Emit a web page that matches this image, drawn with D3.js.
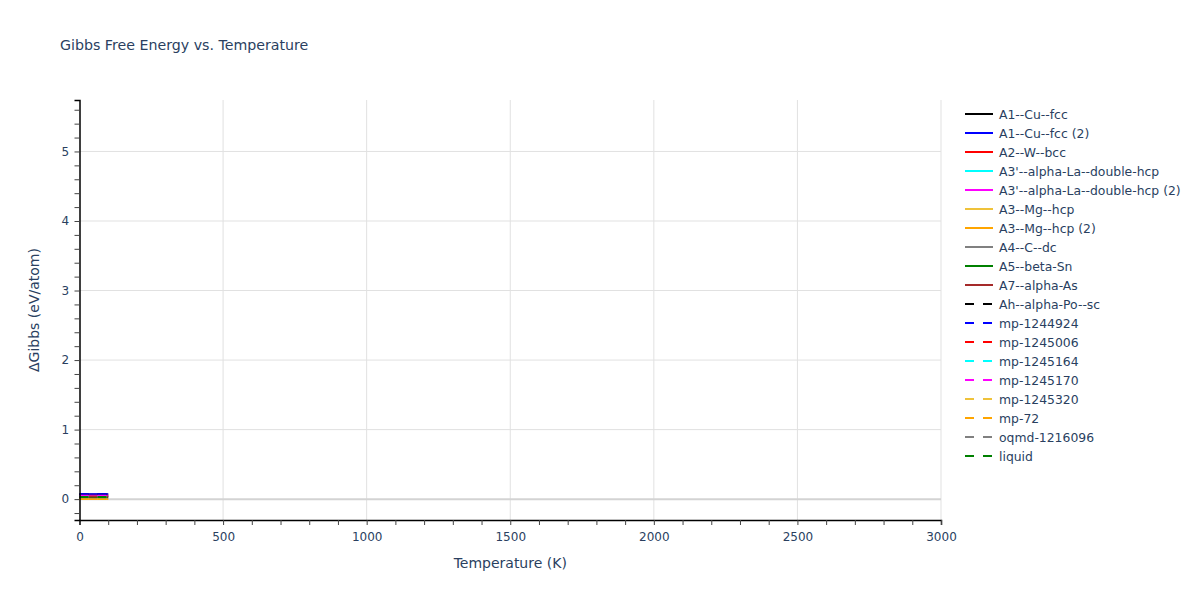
<!DOCTYPE html>
<html>
<head>
<meta charset="utf-8">
<script src="https://cdn.jsdelivr.net/npm/d3@7"></script>
<style>
  body { margin: 0; background: #fff; }
  svg text { font-family: verdana, "DejaVu Sans", arial, sans-serif; fill: #2a3f5f; }
</style>
</head>
<body>
<svg id="chart" width="1200" height="600"></svg>
<script>
'use strict';

// Data
const temperatures = [0, 100];
const seriesNames = [
  "A1--Cu--fcc", "A1--Cu--fcc (2)", "A2--W--bcc", "A3'--alpha-La--double-hcp",
  "A3'--alpha-La--double-hcp (2)", "A3--Mg--hcp", "A3--Mg--hcp (2)", "A4--C--dc",
  "A5--beta-Sn", "A7--alpha-As", "Ah--alpha-Po--sc", "mp-1244924", "mp-1245006",
  "mp-1245164", "mp-1245170", "mp-1245320", "mp-72", "oqmd-1216096", "liquid"
];
const gibbsValues = [
  [0.068, 0.067], [0.072, 0.071], [0.050, 0.049], [0.044, 0.043],
  [0.046, 0.045], [0.004, 0.004], [0.002, 0.002], [0.026, 0.025],
  [0.030, 0.029], [0.038, 0.037], [0.066, 0.065], [0.072, 0.071],
  [0.050, 0.049], [0.044, 0.043], [0.046, 0.045], [0.004, 0.004],
  [0.002, 0.002], [0.026, 0.025], [0.030, 0.029]
];
const xTicks = [0, 500, 1000, 1500, 2000, 2500, 3000];
const yTicks = [0, 1, 2, 3, 4, 5];

// Styles
const palette = ["black", "blue", "red", "cyan", "magenta", "#efc23a", "orange", "gray", "green", "brown"];
const colorOf = i => palette[i < 10 ? i : (i - 10) % 9];
const dashOf = i => i < 10 ? null : "9,9";

const svg = d3.select("#chart");
const margin = {left: 79.5, right: 941, top: 100, bottom: 520};

const x = d3.scaleLinear().domain([0, 3000]).range([margin.left, margin.right]);
const y = d3.scaleLinear().domain([-0.3, 5.74]).range([margin.bottom, margin.top]);

// grid
const grid = svg.append("g");
grid.selectAll(".vgrid").data(xTicks.slice(1)).enter().append("line")
  .attr("x1", d => x(d)).attr("x2", d => x(d))
  .attr("y1", margin.top).attr("y2", margin.bottom)
  .attr("stroke", "#e1e1e1").attr("stroke-width", 1);
grid.selectAll(".hgrid").data(yTicks.slice(1)).enter().append("line")
  .attr("x1", margin.left).attr("x2", margin.right)
  .attr("y1", d => y(d)).attr("y2", d => y(d))
  .attr("stroke", "#e1e1e1").attr("stroke-width", 1);
// zero line
grid.append("line")
  .attr("x1", margin.left).attr("x2", margin.right)
  .attr("y1", y(0)).attr("y2", y(0))
  .attr("stroke", "#d3d3d3").attr("stroke-width", 2);

// traces
const line = d3.line().x(d => x(d[0])).y(d => y(d[1]));
svg.append("g").selectAll("path").data(gibbsValues).enter().append("path")
  .attr("d", vals => line(temperatures.map((t, j) => [t, vals[j]])))
  .attr("fill", "none")
  .attr("stroke", (d, i) => colorOf(i))
  .attr("stroke-width", 2)
  .attr("stroke-dasharray", (d, i) => dashOf(i));

// axes
const xAxis = d3.axisBottom(x).tickValues(d3.range(0, 3001, 100))
  .tickSize(5).tickFormat(d => xTicks.includes(d) ? d : "");
const gx = svg.append("g").attr("transform", `translate(0,${margin.bottom})`).call(xAxis);
const yAxis = d3.axisLeft(y).tickValues(d3.range(-0.2, 5.7, 0.2).map(v => +v.toFixed(1)))
  .tickSize(5).tickFormat(d => yTicks.includes(d) ? d : "");
const gy = svg.append("g").attr("transform", `translate(${margin.left},0)`).call(yAxis);
[gx, gy].forEach(g => {
  g.select(".domain").attr("stroke", "black").attr("stroke-width", 1.5);
  g.selectAll(".tick line").attr("stroke", "#444");
  g.selectAll("text").attr("font-size", 12).style("fill", "#2a3f5f");
});
gx.selectAll("text").attr("dy", "1.05em");
gy.selectAll("text").attr("dx", "-0.2em");

// titles
svg.append("text").attr("x", 60).attr("y", 50).attr("font-size", 14.2)
  .text("Gibbs Free Energy vs. Temperature");
svg.append("text").attr("x", (margin.left + margin.right) / 2).attr("y", 568)
  .attr("text-anchor", "middle").attr("font-size", 14).text("Temperature (K)");
svg.append("text").attr("transform", `translate(39,${(margin.top + margin.bottom) / 2}) rotate(-90)`)
  .attr("text-anchor", "middle").attr("font-size", 14).text("ΔGibbs (eV/atom)");

// legend
const legend = svg.append("g").attr("transform", "translate(965,114)");
const item = legend.selectAll("g").data(seriesNames).enter().append("g")
  .attr("transform", (d, i) => `translate(0,${i * 19})`);
item.append("line").attr("x1", 0).attr("x2", 28).attr("y1", 0).attr("y2", 0)
  .attr("stroke", (d, i) => colorOf(i)).attr("stroke-width", 2)
  .attr("stroke-dasharray", (d, i) => dashOf(i));
item.append("text").attr("x", 34).attr("y", 4.5).attr("font-size", 12.4).text(d => d);
</script>
</body>
</html>
